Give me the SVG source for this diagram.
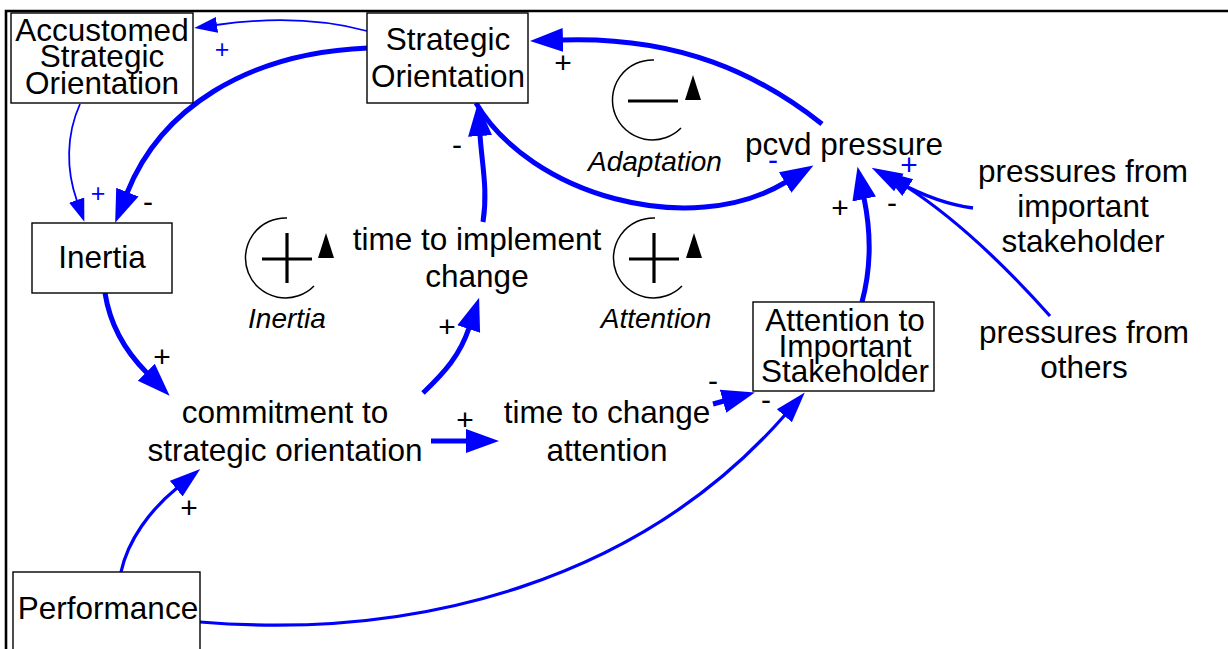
<svg xmlns="http://www.w3.org/2000/svg" xmlns:xlink="http://www.w3.org/1999/xlink" width="1228" height="649" viewBox="0 0 1228 649">
  <style>
    text { font-family: "Liberation Sans", Arial, sans-serif; fill: #000; }
    .lbl { font-size: 31.5px; text-anchor: middle; }
    .loopname { font-size: 28px; font-style: italic; text-anchor: middle; }
    .pol { font-size: 30px; text-anchor: middle; }
    .polb { font-size: 30px; text-anchor: middle; fill: #0000ff; }
    .polthin { font-size: 25px; text-anchor: middle; fill: #0000ff; }
    .box { fill: #fff; stroke: #000; stroke-width: 1.4; }
    .frame { stroke: #000; stroke-width: 2.6; fill: none; }
    .c { fill: none; stroke: #0000ff; stroke-linecap: butt; }
    .thick { stroke-width: 5; marker-end: url(#ahBig); }
    .mid { stroke-width: 3.2; marker-end: url(#ahMid); }
    .thin { stroke-width: 1.8; marker-end: url(#ahSmall); }
    .loopline { fill: none; stroke: #000; stroke-width: 1.5; }
    .sign { stroke: #000; stroke-width: 3.2; }
  </style>
  <defs>
    <marker id="ahBig" markerUnits="userSpaceOnUse" viewBox="-1 -13 35 26" refX="0" refY="0" markerWidth="35" markerHeight="26" orient="auto">
      <path d="M-1,-12 L32,0 L-1,12 Z" fill="#0000ff"/>
    </marker>
    <marker id="ahMid" markerUnits="userSpaceOnUse" viewBox="-1 -11 33 22" refX="0" refY="0" markerWidth="33" markerHeight="22" orient="auto">
      <path d="M-1,-10 L30,0 L-1,10 Z" fill="#0000ff"/>
    </marker>
    <marker id="ahSmall" markerUnits="userSpaceOnUse" viewBox="-1 -9 25 18" refX="0" refY="0" markerWidth="25" markerHeight="18" orient="auto">
      <path d="M-1,-8 L22,0 L-1,8 Z" fill="#0000ff"/>
    </marker>
    <!-- loop circulation arrow, centred on the origin -->
    <g id="loopArrow">
      <path class="loopline" d="M2,-40 A40,40 0 1 0 29,28"/>
      <path d="M33,0 L49,0 L41,-25 Z" fill="#000"/>
    </g>
  </defs>

  <!-- outer frame (top and left edges) -->
  <path class="frame" d="M6,649 V11 H1228"/>

  <g id="connectors">
    <!-- Strategic Orientation -> Accustomed Strategic Orientation -->
    <path class="c thin" d="M367,31 Q300,13 216,25"/>
    <!-- Accustomed Strategic Orientation -> Inertia -->
    <path class="c thin" d="M80,104 C66,135 66,170 77,201"/>
    <!-- Strategic Orientation -> Inertia -->
    <path class="c thick" d="M368,48 C245,53 160,110 127,193"/>
    <!-- pcvd pressure -> Strategic Orientation -->
    <path class="c thick" d="M822,124 C760,75 680,36 562,40"/>
    <!-- Strategic Orientation -> pcvd pressure -->
    <path class="c thick" d="M476,103 C530,195 690,240 786,182"/>
    <!-- time to implement change -> Strategic Orientation -->
    <path class="c thick" d="M483,222 C488,190 482,165 480,135"/>
    <!-- Inertia -> commitment -->
    <path class="c thick" d="M105,293 C110,325 125,351 147,373"/>
    <!-- commitment -> time to implement change -->
    <path class="c thick" d="M423,393 C445,372 460,355 469,328"/>
    <!-- commitment -> time to change attention -->
    <path class="c thick" d="M431,441 L467,441"/>
    <!-- time to change attention -> Attention to Important Stakeholder -->
    <path class="c thick" d="M713,404 L724,401"/>
    <!-- Attention to Important Stakeholder -> pcvd pressure -->
    <path class="c thick" d="M862,302 C872,265 871,232 864,198"/>
    <!-- Performance -> Attention to Important Stakeholder -->
    <path class="c mid" d="M200,622 C420,640 640,580 785,415"/>
    <!-- Performance -> commitment -->
    <path class="c mid" d="M121,572 C128,540 150,510 177,488"/>
    <!-- pressures from important stakeholder -> pcvd pressure -->
    <path class="c mid" d="M973,208 C950,205 922,195 898,182" style="stroke-width:3.6"/>
    <!-- pressures from others -> pcvd pressure -->
    <path class="c mid" d="M1050,316 C1000,260 950,215 907,187"/>

    <!-- link polarities -->
    <text class="polthin" x="222" y="58">+</text>
    <text class="polthin" x="98" y="202">+</text>
    <text class="pol" x="148" y="212">-</text>
    <text class="pol" x="563" y="73">+</text>
    <text class="pol" x="457" y="155">-</text>
    <text class="polb" x="773" y="170">-</text>
    <text class="polb" x="909" y="175">+</text>
    <text class="pol" x="840" y="218">+</text>
    <text class="pol" x="892" y="213">-</text>
    <text class="pol" x="162" y="367">+</text>
    <text class="pol" x="447" y="337">+</text>
    <text class="pol" x="465" y="430">+</text>
    <text class="pol" x="713" y="391">-</text>
    <text class="pol" x="766" y="410">-</text>
    <text class="pol" x="189" y="518">+</text>
  </g>

  <g id="accustomed-strategic-orientation">
    <rect class="box" x="11" y="13" width="182" height="90"/>
    <text class="lbl" x="102" y="41">Accustomed</text>
    <text class="lbl" x="102" y="67">Strategic</text>
    <text class="lbl" x="102" y="94">Orientation</text>
  </g>

  <g id="strategic-orientation">
    <rect class="box" x="367" y="13" width="161" height="90"/>
    <text class="lbl" x="448" y="50">Strategic</text>
    <text class="lbl" x="448" y="87">Orientation</text>
  </g>

  <g id="inertia">
    <rect class="box" x="32" y="223" width="140" height="70"/>
    <text class="lbl" x="102" y="268">Inertia</text>
  </g>

  <g id="performance">
    <rect class="box" x="13" y="572" width="187" height="90"/>
    <text class="lbl" x="108" y="619">Performance</text>
  </g>

  <g id="attention-to-important-stakeholder">
    <rect class="box" x="753" y="302" width="181" height="89"/>
    <text class="lbl" x="845" y="331">Attention to</text>
    <text class="lbl" x="845" y="357">Important</text>
    <text class="lbl" x="845" y="382">Stakeholder</text>
  </g>

  <g id="pcvd-pressure">
    <text class="lbl" x="844" y="155">pcvd pressure</text>
  </g>

  <g id="pressures-from-important-stakeholder">
    <text class="lbl" x="1083" y="182">pressures from</text>
    <text class="lbl" x="1083" y="217">important</text>
    <text class="lbl" x="1083" y="252">stakeholder</text>
  </g>

  <g id="pressures-from-others">
    <text class="lbl" x="1084" y="343">pressures from</text>
    <text class="lbl" x="1084" y="378">others</text>
  </g>

  <g id="time-to-implement-change">
    <text class="lbl" x="477" y="250">time to implement</text>
    <text class="lbl" x="477" y="287">change</text>
  </g>

  <g id="commitment-to-strategic-orientation">
    <text class="lbl" x="285" y="423">commitment to</text>
    <text class="lbl" x="285" y="461">strategic orientation</text>
  </g>

  <g id="time-to-change-attention">
    <text class="lbl" x="607" y="423">time to change</text>
    <text class="lbl" x="607" y="461">attention</text>
  </g>

  <!-- feedback loop markers -->
  <g id="loop-adaptation">
    <use xlink:href="#loopArrow" transform="translate(652,100)"/>
    <line class="sign" x1="628" y1="101" x2="678" y2="101"/>
    <text class="loopname" x="655" y="171">Adaptation</text>
  </g>

  <g id="loop-inertia">
    <use xlink:href="#loopArrow" transform="translate(285,258)"/>
    <line class="sign" x1="262" y1="259" x2="312" y2="259"/>
    <line class="sign" x1="287" y1="233" x2="287" y2="283"/>
    <text class="loopname" x="287" y="328">Inertia</text>
  </g>

  <g id="loop-attention">
    <use xlink:href="#loopArrow" transform="translate(653,258)"/>
    <line class="sign" x1="629" y1="259" x2="679" y2="259"/>
    <line class="sign" x1="654" y1="233" x2="654" y2="283"/>
    <text class="loopname" x="656" y="328">Attention</text>
  </g>
</svg>
